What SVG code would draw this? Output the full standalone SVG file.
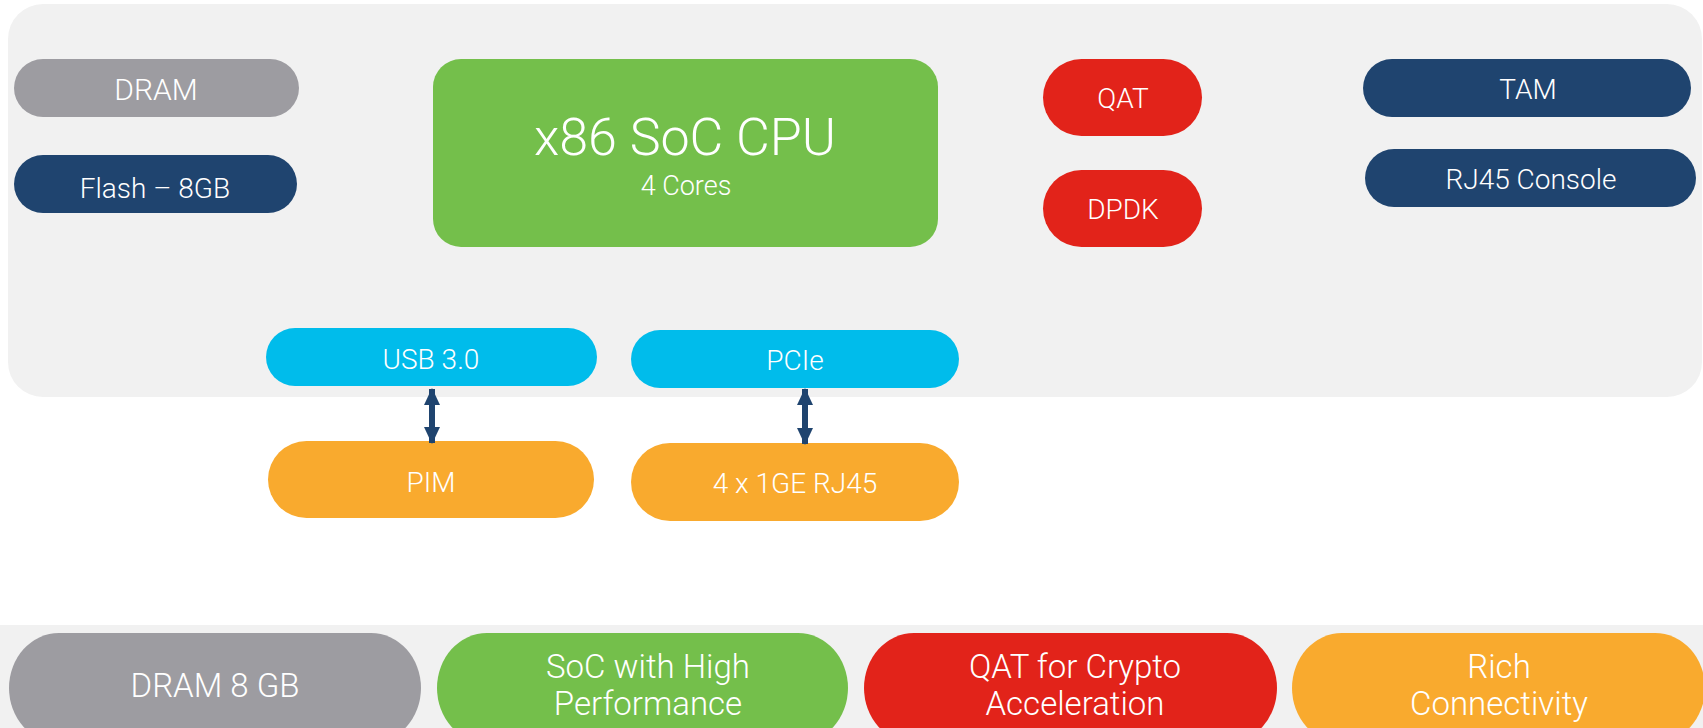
<svg xmlns="http://www.w3.org/2000/svg" width="1703" height="728" viewBox="0 0 1703 728">
<style>
.t{font-family:Roboto,"Liberation Sans",sans-serif;font-weight:300;fill:#ffffff;text-anchor:middle}
.s28{font-size:28px}
.s31{font-size:33px}
.gray{fill:#9d9ca1}
.navy{fill:#1f446f}
.green{fill:#74bf4b}
.red{fill:#e2231a}
.cyan{fill:#00bceb}
.orange{fill:#f9aa2e}
.conn{stroke:#1f446f;stroke-width:6;fill:none}
</style>
<defs>
<marker id="ah" markerUnits="userSpaceOnUse" markerWidth="18" markerHeight="18" viewBox="0 0 18 18" refX="16" refY="9" orient="auto-start-reverse">
<path d="M0,1 L17,9 L0,17 Z" fill="#1f446f"/>
</marker>
</defs>
<rect id="panel" x="8" y="4" width="1694" height="393" rx="35" fill="#f1f1f1"/>
<rect id="band" x="0" y="625" width="1703" height="103" fill="#f1f1f1"/>

<g id="dram"><rect class="gray" x="14" y="59" width="285" height="58" rx="29"/><text class="t" style="font-size:30px" x="156" y="100">DRAM</text></g>
<g id="flash"><rect class="navy" x="14" y="155" width="283" height="58" rx="29"/><text class="t s28" x="155" y="198">Flash – 8GB</text></g>
<g id="cpu"><rect class="green" x="433" y="59" width="505" height="188" rx="28"/><text class="t" style="font-size:52px" x="685" y="155">x86 SoC CPU</text><text class="t" style="font-size:27px" x="686" y="195">4 Cores</text></g>
<g id="qat"><rect class="red" x="1043" y="59" width="159" height="77" rx="38.5"/><text class="t s28" x="1123" y="108">QAT</text></g>
<g id="dpdk"><rect class="red" x="1043" y="170" width="159" height="77" rx="38.5"/><text class="t s28" x="1123" y="219">DPDK</text></g>
<g id="tam"><rect class="navy" x="1363" y="59" width="328" height="58" rx="29"/><text class="t s28" x="1528" y="99">TAM</text></g>
<g id="rj45console"><rect class="navy" x="1365" y="149" width="331" height="58" rx="29"/><text class="t s28" x="1531" y="189">RJ45 Console</text></g>
<g id="usb"><rect class="cyan" x="266" y="328" width="331" height="58" rx="29"/><text class="t s28" x="431" y="369">USB 3.0</text></g>
<g id="pcie"><rect class="cyan" x="631" y="330" width="328" height="58" rx="29"/><text class="t s28" x="795" y="370">PCIe</text></g>
<g id="pim"><rect class="orange" x="268" y="441" width="326" height="77" rx="38.5"/><text class="t s28" x="431" y="492">PIM</text></g>
<g id="ge"><rect class="orange" x="631" y="443" width="328" height="78" rx="39"/><text class="t s28" x="795" y="493">4 x 1GE RJ45</text></g>

<g id="connectors">
<line class="conn" x1="432" y1="389" x2="432" y2="443" marker-start="url(#ah)" marker-end="url(#ah)"/>
<line class="conn" x1="805" y1="389" x2="805" y2="444" marker-start="url(#ah)" marker-end="url(#ah)"/>
</g>

<g id="f-dram"><rect class="gray" x="9" y="633" width="412" height="110" rx="50" ry="55"/><text class="t s31" x="215" y="697">DRAM 8 GB</text></g>
<g id="f-soc"><rect class="green" x="437" y="633" width="411" height="110" rx="50" ry="55"/><text class="t s31" x="648" y="678">SoC with High</text><text class="t s31" x="648" y="715">Performance</text></g>
<g id="f-qat"><rect class="red" x="864" y="633" width="413" height="110" rx="50" ry="55"/><text class="t s31" x="1075" y="678">QAT for Crypto</text><text class="t s31" x="1075" y="715">Acceleration</text></g>
<g id="f-rich"><rect class="orange" x="1292" y="633" width="413" height="110" rx="50" ry="55"/><text class="t s31" x="1499" y="678">Rich</text><text class="t s31" x="1499" y="715">Connectivity</text></g>
</svg>
